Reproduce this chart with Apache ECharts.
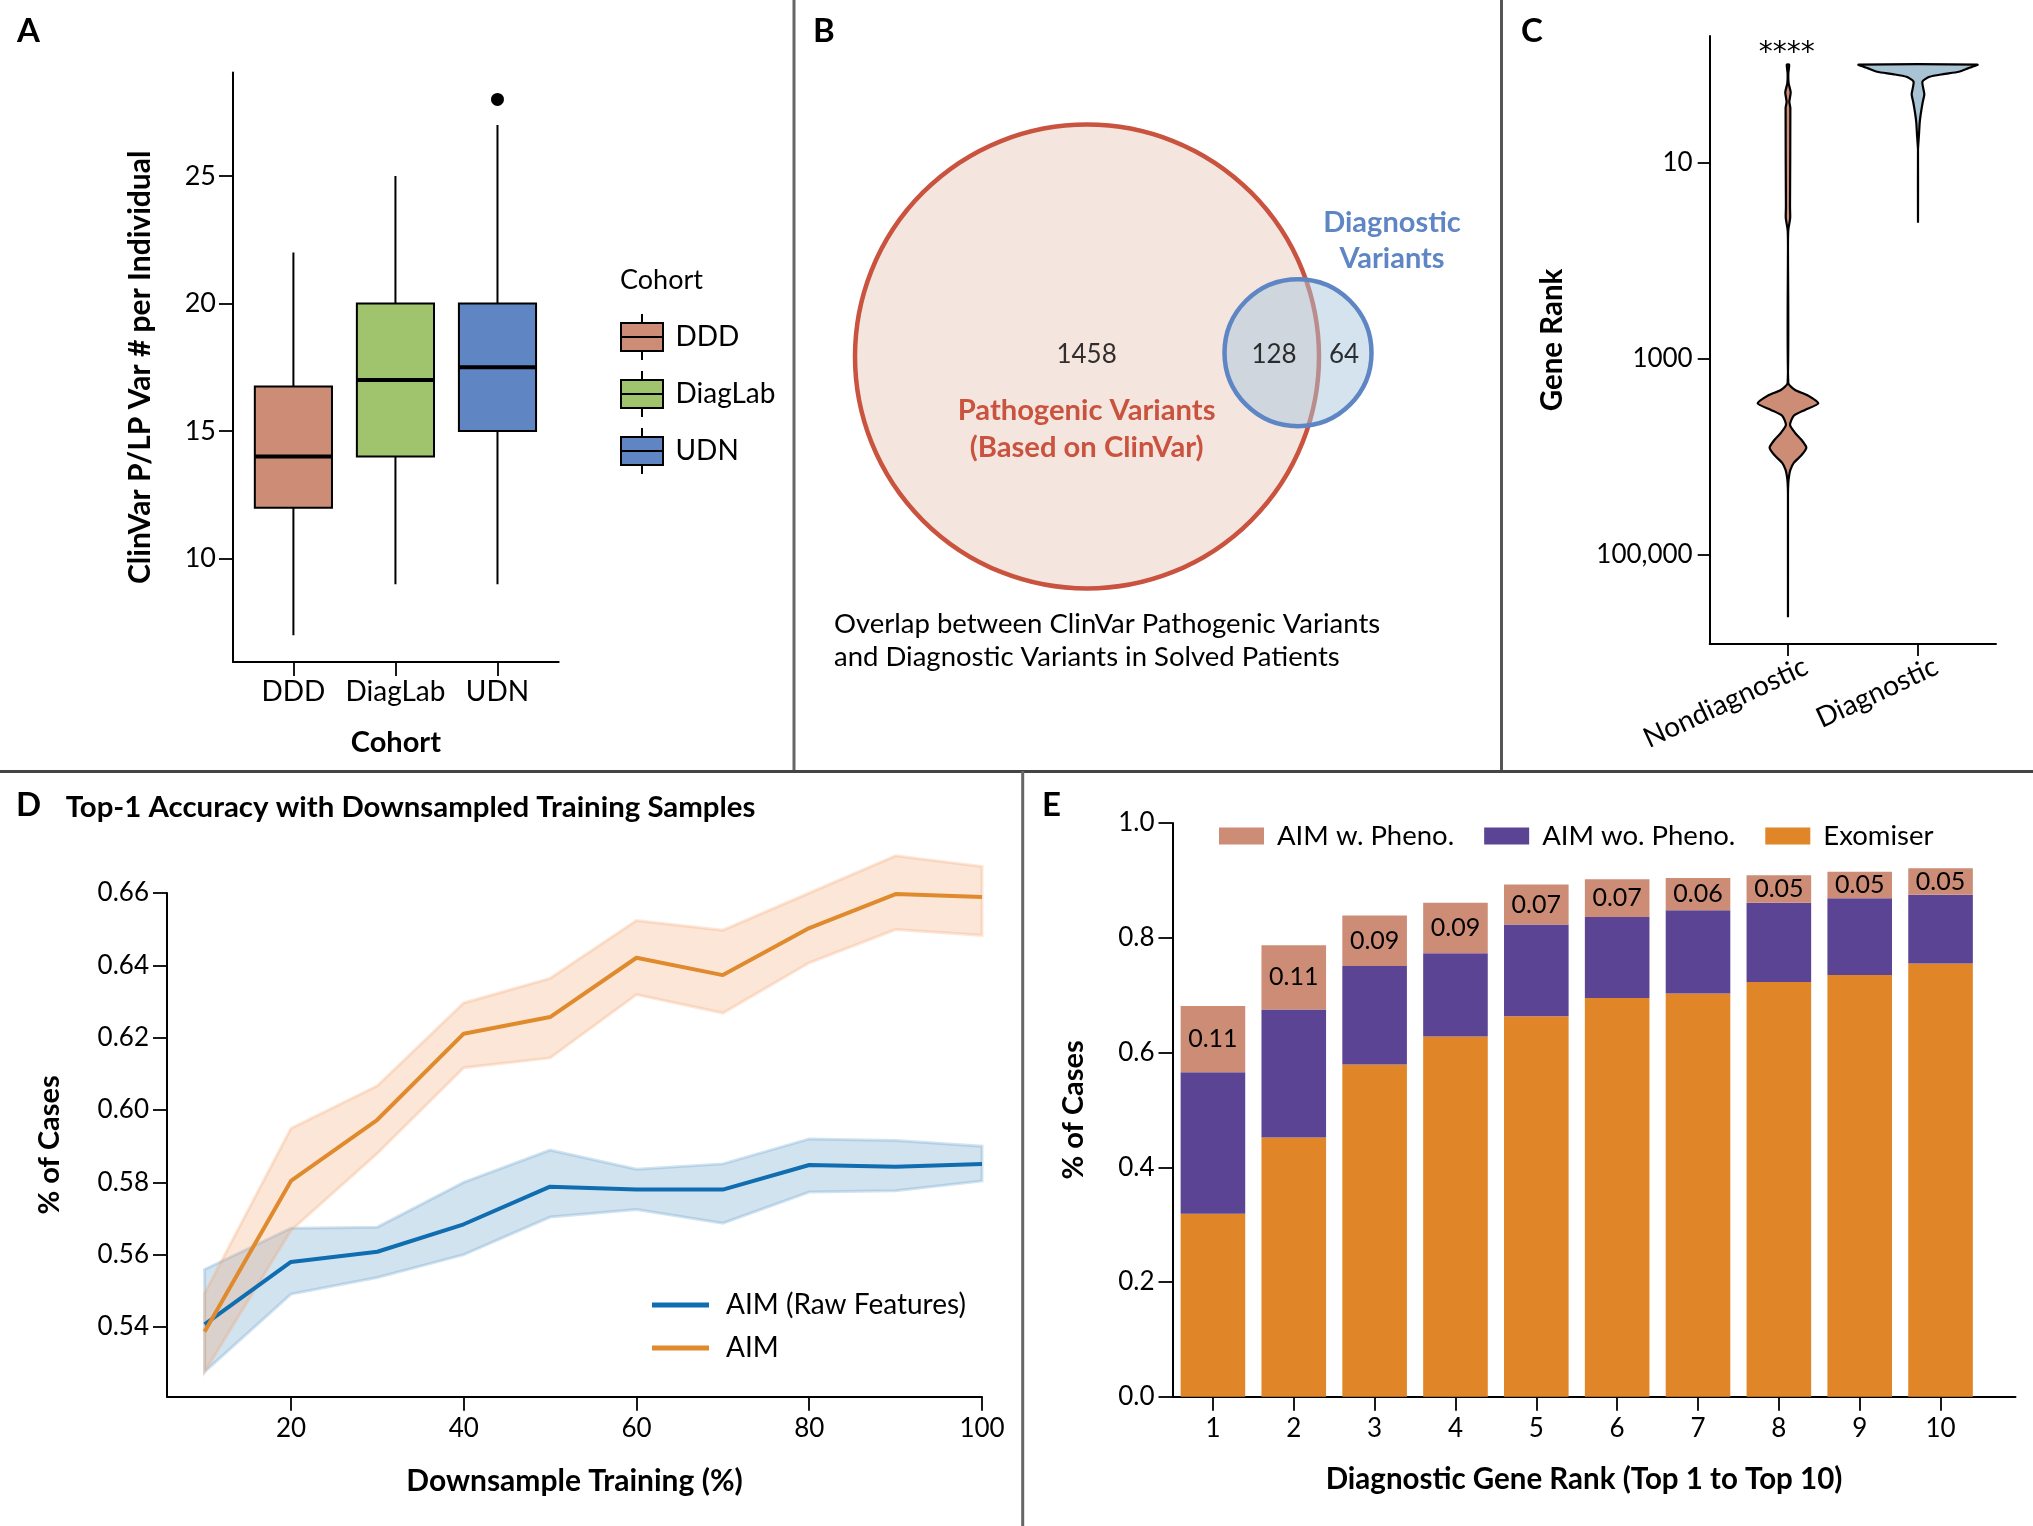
<!DOCTYPE html>
<html>
<head>
<meta charset="utf-8">
<style>html,body{margin:0;padding:0;background:#fff}#c{width:2033px;height:1526px}</style>
<script src="https://cdn.jsdelivr.net/npm/echarts@6/dist/echarts.min.js"></script>
</head>
<body>
<div id="c"></div>
<script>
// ---------- Panel A ----------
const cohorts = ['DDD', 'DiagLab', 'UDN'];
const cohortLow = [7, 9, 9];
const cohortQ1 = [12, 14, 15];
const cohortMedian = [14, 17, 17.5];
const cohortQ3 = [16.75, 20, 20];
const cohortHigh = [22, 25, 27];
const udnOutlier = [28];
const cohortColors = ['#CC8C76', '#A0C46E', '#5F86C3'];
const panelATicks = [10, 15, 20, 25];

// ---------- Panel B ----------
const vennCounts = [1458, 128, 64];

// ---------- Panel C ----------
const violinCategories = ['Nondiagnostic', 'Diagnostic'];
const nonDiagRank = [1, 1.23, 1.55, 1.91, 2.39, 2.77, 28, 36.6, 48.5, 72, 1762, 2075, 2335, 2838, 3311, 3802, 4710, 5690, 6714, 8035, 9550, 11500, 13570, 15850, 18400, 24000, 431000];
const nonDiagDensity = [3.5, 1, 2, 8, 4, 7, 6, 6.5, 1, 0, 1, 21, 56, 89, 50, 17, 6, 21, 40, 54, 40, 17, 7, 3, 1, 0, 0];
const diagRank = [1, 1.05, 1.09, 1.18, 1.25, 1.33, 1.49, 2, 2.4, 3.2, 3.9, 5.1, 7.4, 41];
const diagDensity = [175, 160, 147, 120, 74, 34, 13, 18.6, 14, 8, 5, 3, 0, 0];
const rankTicks = [10, 1000, 100000];

// ---------- Panel D ----------
const trainPct = [10, 20, 30, 40, 50, 60, 70, 80, 90, 100];
const aimMean = [0.5387, 0.5804, 0.5973, 0.6211, 0.6257, 0.6421, 0.6373, 0.6503, 0.6597, 0.6589];
const aimUpper = [0.5493, 0.5949, 0.6067, 0.6296, 0.6364, 0.6524, 0.6497, 0.66, 0.6703, 0.6673];
const aimLower = [0.5276, 0.5667, 0.588, 0.6117, 0.6144, 0.6319, 0.6268, 0.6407, 0.6499, 0.6483];
const rawMean = [0.5407, 0.558, 0.5608, 0.5684, 0.5788, 0.578, 0.578, 0.5848, 0.5843, 0.5851];
const rawUpper = [0.5559, 0.5673, 0.5676, 0.58, 0.5889, 0.5836, 0.5851, 0.592, 0.5916, 0.59];
const rawLower = [0.5276, 0.5491, 0.5537, 0.56, 0.5704, 0.5725, 0.5687, 0.5773, 0.5777, 0.5804];
const panelDXTicks = [20, 40, 60, 80, 100];
const panelDYTicks = [0.54, 0.56, 0.58, 0.60, 0.62, 0.64, 0.66];

// ---------- Panel E ----------
const geneRanks = [1, 2, 3, 4, 5, 6, 7, 8, 9, 10];
const exomiser = [0.319, 0.452, 0.579, 0.628, 0.663, 0.695, 0.703, 0.723, 0.735, 0.755];
const aimWoPheno = [0.2465, 0.223, 0.172, 0.145, 0.16, 0.141, 0.145, 0.138, 0.134, 0.12];
const aimWPheno = [0.1155, 0.112, 0.088, 0.088, 0.07, 0.066, 0.056, 0.048, 0.046, 0.046];
const aimWLabels = ['0.11', '0.11', '0.09', '0.09', '0.07', '0.07', '0.06', '0.05', '0.05', '0.05'];
const panelEYTicks = [0, 0.2, 0.4, 0.6, 0.8, 1.0];

// ---------- helpers ----------
const FONT = 'Lato';
const tick = { show: true, length: 14, lineStyle: { color: '#000', width: 1.8 } };
const line = { show: true, onZero: false, lineStyle: { color: '#000', width: 2 } };
const lbl = (size, extra) => Object.assign({ color: '#000', fontFamily: FONT, fontSize: size, margin: 8 }, extra || {});
const nameStyle = (size, extra) => Object.assign({ color: '#000', fontFamily: FONT, fontWeight: 'bold', fontSize: size }, extra || {});
const txt = (text, x, y, size, opt) => {
  opt = opt || {};
  return { type: 'text', x, y, z: 100, silent: true,
    style: { text, fill: opt.fill || '#000', fontFamily: opt.family || FONT, fontSize: size, fontWeight: opt.weight || 'normal',
      textAlign: opt.align || 'left', textVerticalAlign: 'middle', verticalAlign: 'middle' } };
};
const divider = (x1, y1, x2, y2, color) => ({ type: 'line', silent: true, z: 100, shape: { x1, y1, x2, y2 }, style: { stroke: color, lineWidth: 3 } });

function boxSeries(i) {
  return {
    type: 'custom', name: cohorts[i], xAxisIndex: 0, yAxisIndex: 0,
    itemStyle: { color: cohortColors[i] },
    data: [[i + 1, cohortLow[i], cohortQ1[i], cohortMedian[i], cohortQ3[i], cohortHigh[i]]],
    encode: { x: 0, y: [1, 2, 3, 4, 5] },
    renderItem(params, api) {
      const x = api.value(0), halfW = 0.378;
      const p = (xx, yy) => api.coord([xx, yy]);
      const a = p(x - halfW, api.value(4)), b = p(x + halfW, api.value(2));
      const seg = (xa, ya, xb, yb, w) => {
        const s = p(xa, ya), e = p(xb, yb);
        return { type: 'line', shape: { x1: s[0], y1: s[1], x2: e[0], y2: e[1] }, style: { stroke: '#000', lineWidth: w } };
      };
      return { type: 'group', children: [
        seg(x, api.value(1), x, api.value(5), 2),
        { type: 'rect', shape: { x: a[0], y: a[1], width: b[0] - a[0], height: b[1] - a[1] },
          style: { fill: cohortColors[i], stroke: '#000', lineWidth: 2 } },
        seg(x - halfW, api.value(3), x + halfW, api.value(3), 4)
      ] };
    }
  };
}

function violinSeries(name, xPos, ranks, density, color) {
  const unitPerDensity = 1 / 382;
  return {
    type: 'custom', name, xAxisIndex: 1, yAxisIndex: 1, clip: false,
    data: ranks.map((r, i) => [xPos, r, density[i]]),
    encode: { x: 0, y: 1 },
    renderItem(params, api) {
      if (params.dataIndex !== 0) return null;
      const left = [], right = [];
      ranks.forEach((r, i) => {
        right.push(api.coord([xPos + density[i] * unitPerDensity, r]));
        left.unshift(api.coord([xPos - density[i] * unitPerDensity, r]));
      });
      return { type: 'polygon', shape: { points: right.concat(left), smooth: 0.2 },
        style: { fill: color, stroke: '#000', lineWidth: 2.2 } };
    }
  };
}

function bandSeries(name, lower, upper, fill, stroke) {
  return {
    type: 'custom', name, xAxisIndex: 2, yAxisIndex: 2, clip: false, silent: true,
    data: trainPct.map((x, i) => [x, lower[i], upper[i]]),
    encode: { x: 0, y: [1, 2] },
    renderItem(params, api) {
      if (params.dataIndex !== 0) return null;
      const up = trainPct.map((x, i) => api.coord([x, upper[i]]));
      const lo = trainPct.map((x, i) => api.coord([x, lower[i]])).reverse();
      return { type: 'polygon', shape: { points: up.concat(lo) }, style: { fill, stroke, lineWidth: 3 } };
    }
  };
}

// value comes first in each row so that stacking acts on the y dimension
const stackBar = (name, values, color, extra) => Object.assign({
  type: 'bar', name, xAxisIndex: 3, yAxisIndex: 3, stack: 'total', barWidth: 64.6,
  encode: { x: 1, y: 0 },
  itemStyle: { color }, data: geneRanks.map((r, i) => [values[i], r])
}, extra || {});

// Venn layout in the panel's own pixel space (hidden axes)
const vennShapes = [
  { cx: 287, cy: 356.5, r: 232, fill: '#F5E5DF', stroke: '#C9533E', width: 4.5 },
  { cx: 498, cy: 352.7, r: 73.5, fill: 'rgba(170,200,220,0.5)', stroke: '#5E85C4', width: 4.5 }
];
const vennLabelPos = [[286.6, 354.5], [474, 354.5], [544, 354.5]];

const option = {
  animation: false,
  backgroundColor: '#fff',
  textStyle: { fontFamily: FONT },
  grid: [
    { left: 233, top: 72.6, width: 325.7, height: 589.4 },
    { left: 1709.7, top: 36, width: 286.3, height: 608 },
    { left: 167, top: 893, width: 815, height: 503.8 },
    { left: 1172.5, top: 823, width: 843, height: 573.8 },
    { left: 800, top: 0, width: 700, height: 770 }
  ],
  xAxis: [
    { gridIndex: 0, type: 'value', min: 0.408, max: 3.6, splitLine: { show: false }, axisLine: line,
      axisTick: Object.assign({ customValues: [1, 2, 3] }, tick),
      axisLabel: lbl(28, { customValues: [1, 2, 3], margin: 16, formatter: v => cohorts[v - 1] }),
      name: 'Cohort', nameLocation: 'middle', nameGap: 66, nameTextStyle: nameStyle(29) },
    { gridIndex: 1, type: 'value', min: 0.398, max: 2.6, splitLine: { show: false }, axisLine: line,
      axisTick: Object.assign({ customValues: [1, 2] }, tick, { length: 12 }),
      axisLabel: lbl(28, { customValues: [1.14, 2.14], rotate: 25, margin: 21, formatter: v => violinCategories[Math.round(v) - 1] }) },
    { gridIndex: 2, type: 'value', min: 5.65, max: 100, splitLine: { show: false }, axisLine: line,
      axisTick: Object.assign({ customValues: panelDXTicks }, tick),
      axisLabel: lbl(26, { customValues: panelDXTicks, margin: 19 }),
      name: 'Downsample Training (%)', nameLocation: 'middle', nameGap: 70, nameTextStyle: nameStyle(30) },
    { gridIndex: 3, type: 'value', min: 0.5, max: 10.927, splitLine: { show: false }, axisLine: line,
      axisTick: Object.assign({ customValues: geneRanks }, tick),
      axisLabel: lbl(26, { customValues: geneRanks, margin: 19 }),
      name: 'Diagnostic Gene Rank (Top 1 to Top 10)', nameLocation: 'middle', nameGap: 68,
      nameTextStyle: nameStyle(29.5, { padding: [0, 20, 0, 0] }) },
    { gridIndex: 4, type: 'value', show: false, min: 0, max: 700 }
  ],
  yAxis: [
    { gridIndex: 0, type: 'value', min: 5.95, max: 29.05, splitLine: { show: false }, axisLine: line,
      axisTick: Object.assign({ customValues: panelATicks }, tick),
      axisLabel: lbl(27, { customValues: panelATicks, margin: 17 }),
      name: 'ClinVar P/LP Var # per Individual', nameLocation: 'middle', nameGap: 78, nameTextStyle: nameStyle(30) },
    { gridIndex: 1, type: 'log', logBase: 10, inverse: true, min: 0.51, max: 807000, splitLine: { show: false }, axisLine: line,
      axisTick: Object.assign({ customValues: rankTicks }, tick, { length: 12 }),
      axisLabel: lbl(26, { customValues: rankTicks, margin: 17, formatter: v => v >= 100000 ? '100,000' : String(v) }),
      name: 'Gene Rank', nameLocation: 'middle', nameGap: 142, nameTextStyle: nameStyle(29.5) },
    { gridIndex: 2, type: 'value', min: 0.5207, max: 0.66, splitLine: { show: false }, axisLine: line,
      axisTick: Object.assign({ customValues: panelDYTicks }, tick),
      axisLabel: lbl(26, { customValues: panelDYTicks, margin: 18, formatter: v => v.toFixed(2) }),
      name: '% of Cases', nameLocation: 'middle', nameGap: 103, nameTextStyle: nameStyle(29) },
    { gridIndex: 3, type: 'value', min: 0, max: 1, splitLine: { show: false }, axisLine: line,
      axisTick: Object.assign({ customValues: panelEYTicks }, tick),
      axisLabel: lbl(26, { customValues: panelEYTicks, margin: 18, formatter: v => v.toFixed(1) }),
      name: '% of Cases', nameLocation: 'middle', nameGap: 84, nameTextStyle: nameStyle(29) },
    { gridIndex: 4, type: 'value', show: false, inverse: true, min: 0, max: 770 }
  ],
  legend: [
    { left: 620, top: 313, padding: 0, orient: 'vertical', itemWidth: 43, itemHeight: 46, itemGap: 9, selectedMode: false,
      textStyle: { fontFamily: FONT, fontSize: 28, color: '#000', padding: [0, 0, 0, 7] },
      data: cohorts.map((n, i) => ({ name: n, icon: 'path://M21 0V9M0 9H42V37H0ZM0 23H42M21 37V46',
        itemStyle: { color: cohortColors[i], borderColor: '#000', borderWidth: 2 } })) },
    { left: 652, top: 1291, padding: 0, orient: 'vertical', itemWidth: 57, itemHeight: 5, itemGap: 15, selectedMode: false,
      textStyle: { fontFamily: FONT, fontSize: 28, color: '#000', padding: [0, 0, 0, 12] },
      data: [{ name: 'AIM (Raw Features)', icon: 'rect' }, { name: 'AIM', icon: 'rect' }] },
    { left: 1219, top: 822, padding: 0, orient: 'horizontal', itemWidth: 45, itemHeight: 17, itemGap: 30, selectedMode: false,
      textStyle: { fontFamily: FONT, fontSize: 27.5, color: '#000', padding: [0, 0, 0, 8] },
      data: [{ name: 'AIM w. Pheno.', icon: 'rect' }, { name: 'AIM wo. Pheno.', icon: 'rect' }, { name: 'Exomiser', icon: 'rect' }] }
  ],
  graphic: [
    divider(794, 0, 794, 771, '#666'), divider(1501.5, 0, 1501.5, 771, '#555'),
    divider(0, 771.5, 2033, 771.5, '#444'), divider(1022.7, 771, 1022.7, 1526, '#666'),
    txt('A', 17, 31, 33, { weight: 'bold' }),
    txt('B', 813, 31, 33, { weight: 'bold' }),
    txt('C', 1521, 31, 33, { weight: 'bold' }),
    txt('D', 16, 805, 33, { weight: 'bold' }),
    txt('E', 1042, 805, 33, { weight: 'bold' }),
    txt('Cohort', 620, 280, 27),
    txt('Pathogenic Variants', 1086.6, 411, 29.2, { weight: 'bold', fill: '#C9533E', align: 'center' }),
    txt('(Based on ClinVar)', 1086.6, 448, 29.2, { weight: 'bold', fill: '#C9533E', align: 'center' }),
    txt('Diagnostic', 1392, 223, 29, { weight: 'bold', fill: '#5E85C4', align: 'center' }),
    txt('Variants', 1392, 259, 29, { weight: 'bold', fill: '#5E85C4', align: 'center' }),
    txt('Overlap between ClinVar Pathogenic Variants', 834, 624, 27.5),
    txt('and Diagnostic Variants in Solved Patients', 834, 657, 27.5),
    txt('****', 1786.7, 54, 28, { align: 'center', family: 'DejaVu Sans' }),
    txt('Top-1 Accuracy with Downsampled Training Samples', 65.7, 808, 29.4, { weight: 'bold' })
  ],
  series: [
    boxSeries(0), boxSeries(1), boxSeries(2),
    { type: 'scatter', name: 'UDN outlier', xAxisIndex: 0, yAxisIndex: 0, symbolSize: 13,
      itemStyle: { color: '#000', opacity: 1 }, data: [[3, udnOutlier[0]]] },

    { type: 'custom', name: 'Venn sets', xAxisIndex: 4, yAxisIndex: 4, silent: true,
      data: vennShapes.map(s => [s.cx, s.cy, s.r]), encode: { x: 0, y: 1 },
      renderItem(params, api) {
        const s = vennShapes[params.dataIndex];
        const c = api.coord([api.value(0), api.value(1)]);
        const r = api.size([api.value(2), 0])[0];
        return { type: 'circle', shape: { cx: c[0], cy: c[1], r },
          style: { fill: s.fill, stroke: s.stroke, lineWidth: s.width } };
      } },
    { type: 'scatter', name: 'Venn counts', xAxisIndex: 4, yAxisIndex: 4, symbolSize: 0, silent: true, z: 5,
      data: vennCounts.map((n, i) => [vennLabelPos[i][0], vennLabelPos[i][1], n]),
      label: { show: true, position: 'inside', color: '#000', fontFamily: FONT, fontSize: 26, formatter: p => String(p.value[2]) } },

    violinSeries('Nondiagnostic violin', 1, nonDiagRank, nonDiagDensity, '#CC8C76'),
    violinSeries('Diagnostic violin', 2, diagRank, diagDensity, '#A8C4D4'),

    bandSeries('AIM (Raw Features) band', rawLower, rawUpper, 'rgba(90,150,200,0.27)', 'rgba(90,150,200,0.27)'),
    bandSeries('AIM band', aimLower, aimUpper, 'rgba(243,160,100,0.26)', 'rgba(243,160,100,0.26)'),
    { type: 'line', name: 'AIM (Raw Features)', xAxisIndex: 2, yAxisIndex: 2, showSymbol: false, clip: false,
      itemStyle: { color: '#0F6DB0' }, lineStyle: { color: '#0F6DB0', width: 4 },
      data: trainPct.map((x, i) => [x, rawMean[i]]) },
    { type: 'line', name: 'AIM', xAxisIndex: 2, yAxisIndex: 2, showSymbol: false, clip: false,
      itemStyle: { color: '#E08A2E' }, lineStyle: { color: '#E08A2E', width: 4 },
      data: trainPct.map((x, i) => [x, aimMean[i]]) },

    stackBar('Exomiser', exomiser, '#E08628'),
    stackBar('AIM wo. Pheno.', aimWoPheno, '#5B4494'),
    stackBar('AIM w. Pheno.', aimWPheno, '#CC8C76', {
      label: { show: true, position: 'inside', color: '#000', fontFamily: FONT, fontSize: 25,
        formatter: p => aimWLabels[p.dataIndex] } })
  ]
};
const chart = echarts.init(document.getElementById('c'), null, { renderer: 'canvas' });
chart.setOption(option);
</script>
</body>
</html>
